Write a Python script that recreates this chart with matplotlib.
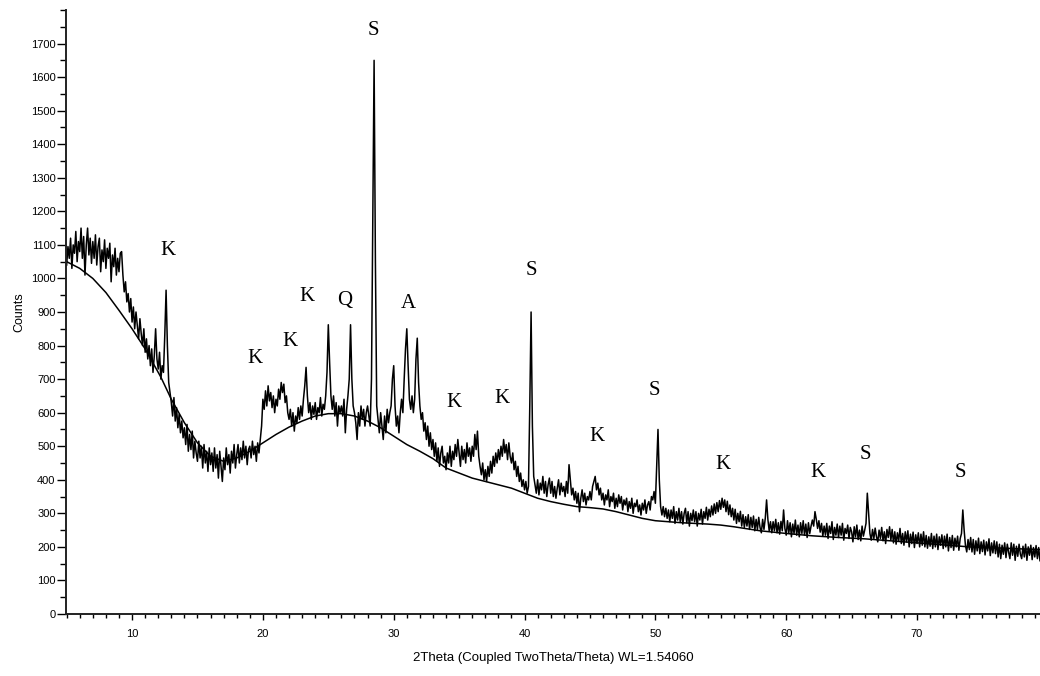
import matplotlib
matplotlib.use("Agg")

import numpy as np
import matplotlib.pyplot as plt
from matplotlib.ticker import MultipleLocator

# XRD counts, 0.1 deg steps starting at 5.0 deg 2theta
counts = [
    1040, 1095, 1060, 1120, 1030, 1100, 1075, 1140, 1050, 1110,  # 5
    1080, 1150, 1060, 1125, 1010, 1100, 1150, 1070, 1120, 1045,  # 6
    1110, 1060, 1130, 1040, 1095, 1120, 1020, 1085, 1050, 1115,  # 7
    1030, 1090, 1060, 1105, 990, 1070, 1035, 1090, 1010, 1060,   # 8
    1020, 1075, 1080, 1010, 960, 990, 930, 955, 900, 940,        # 9
    870, 915, 850, 900, 860, 820, 880, 835, 800, 850,            # 10
    780, 820, 760, 800, 740, 790, 720, 770, 850, 760,            # 11
    730, 780, 700, 740, 720, 830, 965, 800, 690, 660,            # 12
    630, 590, 645, 575, 615, 555, 595, 540, 575, 525,            # 13
    555, 505, 565, 485, 535, 490, 545, 465, 515, 480,            # 14
    455, 515, 465, 500, 435, 505, 450, 485, 425, 495,            # 15
    445, 480, 425, 495, 435, 475, 405, 485, 440, 395,            # 16
    465, 430, 495, 445, 475, 420, 485, 450, 505, 435,            # 17
    475, 505, 450, 495, 460, 515, 465, 500, 445, 490,            # 18
    500, 465, 515, 475, 500, 455, 510, 480, 520, 560,            # 19
    640, 610, 665, 620, 680, 635, 660, 615, 650, 600,            # 20
    640, 620, 670, 640, 690, 660, 685, 630, 650, 600,            # 21
    580, 610, 560, 600, 545, 590, 570, 615, 580, 620,            # 22
    590, 640, 680, 735, 650, 600, 630, 580, 620, 595,            # 23
    630, 580, 615, 600, 645, 590, 625, 610, 650, 720,            # 24
    862, 750, 650, 610, 650, 590, 630, 560, 620, 600,            # 25
    620, 590, 640, 540, 610, 650, 700, 862, 700, 620,            # 26
    600, 570, 520, 600, 560, 620, 580, 610, 560, 600,            # 27
    620, 590, 560, 700, 1180, 1650, 1050, 620, 580, 540,         # 28
    600, 560, 520, 590, 540, 610, 570, 600, 620, 700,            # 29
    740, 620, 560, 590, 540, 600, 640, 600, 700, 790,            # 30
    850, 740, 640, 610, 650, 600, 640, 760, 822, 690,            # 31
    620, 580, 600, 545, 570, 520, 560, 500, 540, 490,            # 32
    520, 470, 510, 455, 495, 440, 480, 500, 450, 470,            # 33
    430, 480, 450, 500, 440, 485, 460, 505, 470, 520,            # 34
    480, 440, 500, 460, 490, 450, 510, 470, 495, 455,            # 35
    500, 470, 535, 490, 545, 470, 440, 415, 450, 400,            # 36
    430, 395, 440, 410, 455, 420, 470, 440, 480, 450,            # 37
    490, 460, 500, 470, 520, 480, 505, 460, 510, 470,            # 38
    450, 480, 430, 455, 410, 440, 395, 420, 380, 400,            # 39
    370, 395, 360, 380, 620, 900, 560, 410, 385, 360,            # 40
    400, 355, 390, 370, 410, 360, 395, 350, 385, 405,            # 41
    360, 395, 350, 380, 345, 375, 400, 355, 390, 365,            # 42
    380, 350, 395, 360, 445, 400, 355, 375, 340, 365,            # 43
    330, 360, 305, 345, 370, 335, 360, 325, 350, 340,            # 44
    365, 340, 380, 395, 410, 370, 390, 355, 375, 340,            # 45
    360, 325, 355, 340, 370, 320, 350, 335, 360, 315,            # 46
    345, 320, 355, 330, 350, 310, 340, 325, 345, 305,            # 47
    335, 315, 345, 300, 330, 320, 340, 305, 325, 295,            # 48
    330, 310, 340, 300, 325, 335, 310, 350, 340, 365,            # 49
    330, 440, 550, 400, 320, 295, 320, 290, 315, 285,            # 50
    310, 275, 310, 285, 320, 270, 305, 280, 315, 275,            # 51
    305, 268, 300, 315, 272, 305, 262, 300, 278, 310,            # 52
    275, 305, 262, 300, 280, 312, 268, 305, 285, 318,            # 53
    280, 312, 290, 322, 295, 328, 300, 332, 305, 338,            # 54
    312, 345, 318, 340, 305, 336, 296, 325, 290, 315,            # 55
    280, 312, 270, 300, 275, 306, 262, 296, 258, 290,            # 56
    262, 296, 252, 288, 258, 292, 248, 282, 252, 288,            # 57
    258, 242, 282, 252, 285, 340, 282, 248, 275, 242,            # 58
    275, 248, 282, 242, 272, 238, 276, 248, 310, 255,            # 59
    235, 278, 242, 272, 230, 268, 240, 280, 235, 265,            # 60
    230, 272, 240, 278, 235, 268, 228, 272, 240, 262,            # 61
    280, 262, 305, 282, 255, 278, 244, 270, 232, 262,            # 62
    235, 270, 225, 262, 240, 275, 222, 258, 235, 268,            # 63
    228, 262, 235, 270, 220, 255, 240, 265, 225, 258,            # 64
    245, 215, 260, 230, 265, 222, 250, 218, 262, 232,            # 65
    250, 270, 360, 300, 240, 220, 252, 225, 256, 230,            # 66
    215, 250, 225, 258, 218, 245, 210, 252, 228, 260,            # 67
    220, 252, 212, 245, 208, 242, 218, 255, 210, 240,            # 68
    205, 245, 215, 248, 200, 238, 210, 244, 198, 236,            # 69
    210, 242, 200, 238, 205, 245, 200, 234, 196, 230,            # 70
    202, 240, 195, 232, 200, 238, 192, 230, 205, 236,            # 71
    195, 232, 200, 238, 188, 228, 198, 234, 190, 226,            # 72
    200, 232, 190, 225, 240, 310, 250, 205, 185, 222,            # 73
    192, 228, 185, 222, 178, 218, 188, 226, 180, 215,            # 74
    186, 220, 176, 215, 188, 224, 174, 212, 182, 218,            # 75
    180, 215, 170, 208, 165, 205, 178, 212, 168, 208,            # 76
    184, 165, 212, 175, 208, 160, 202, 172, 208, 178,            # 77
    165, 202, 170, 208, 160, 200, 175, 205, 162, 198,            # 78
    170, 204, 165, 198, 158, 195,                                # 79
]
two_theta = np.round(5.0 + 0.1 * np.arange(len(counts)), 1)

# fitted background curve
bg_theta = [5, 6, 7, 8, 9, 10, 11, 12.2, 13, 14, 15, 16, 17, 18, 19, 20, 21,
            22, 23, 24, 25, 26, 27, 28, 29, 30, 31, 32, 33, 34, 35, 36, 37, 38,
            39, 40, 41, 42, 43, 44, 45, 46, 47, 48, 49, 50, 52, 54, 55, 56, 58,
            60, 62, 64, 66, 68, 70, 72, 74, 76, 78, 79.5]
bg_counts = [1050, 1030, 1000, 958, 905, 850, 790, 706, 640, 570, 510, 470,
             455, 465, 485, 510, 535, 557, 575, 590, 597, 597, 590, 575, 555,
             530, 505, 485, 463, 435, 420, 405, 395, 385, 375, 360, 345, 335,
             327, 320, 317, 313, 305, 295, 285, 278, 272, 268, 265, 260, 248,
             240, 233, 228, 224, 218, 212, 206, 200, 197, 194, 192]

# phase labels
label_text = ['K', 'K', 'K', 'K', 'Q', 'S', 'A', 'K', 'K', 'S', 'K', 'S', 'K',
              'K', 'S', 'S']
label_x = [12.75, 19.4, 22.1, 23.4, 26.25, 28.45, 31.15, 34.6, 38.3, 40.5,
           45.5, 49.95, 55.2, 62.4, 66.05, 73.3]
label_y = [1083, 762, 812, 946, 934, 1738, 926, 631, 643, 1024, 530, 667, 446,
           423, 476, 423]

fig = plt.figure(figsize=(10.4, 6.76), dpi=100)
ax = fig.add_axes([66 / 1040, 62 / 676, 1 - 66 / 1040, 604 / 676])

ax.plot(two_theta, counts, color='black', lw=1.1)
ax.plot(bg_theta, bg_counts, color='black', lw=1.1)

for t, x, y in zip(label_text, label_x, label_y):
    ax.text(x, y, t, ha='center', va='center', fontsize=15,
            family='Liberation Serif')

ax.set_xlim(4.95, 79.4)
ax.set_ylim(0, 1800)

ax.xaxis.set_major_locator(MultipleLocator(10))
ax.xaxis.set_minor_locator(MultipleLocator(1))
ax.yaxis.set_minor_locator(MultipleLocator(50))
ax.set_yticks(np.arange(0, 1800, 100))

for side in ['top', 'right']:
    ax.spines[side].set_visible(False)
for side in ['left', 'bottom']:
    ax.spines[side].set_linewidth(1.4)
    ax.spines[side].set_color('#222222')

ax.tick_params(axis='y', which='major', length=6.5, width=1.0, labelsize=8, pad=1)
ax.tick_params(axis='y', which='minor', length=4.3, width=1.0)
ax.tick_params(axis='x', which='major', length=4.5, width=1.0, labelsize=8, pad=6)
ax.tick_params(axis='x', which='minor', length=3.0, width=1.0)
for lab in ax.get_xticklabels() + ax.get_yticklabels():
    lab.set_family('Liberation Sans')

ax.set_xlabel('2Theta (Coupled TwoTheta/Theta) WL=1.54060', fontsize=9.5,
              family='Liberation Sans', labelpad=10)
ax.set_ylabel('Counts', fontsize=9, family='Liberation Sans', labelpad=4)

fig.savefig('out.png', dpi=100)
